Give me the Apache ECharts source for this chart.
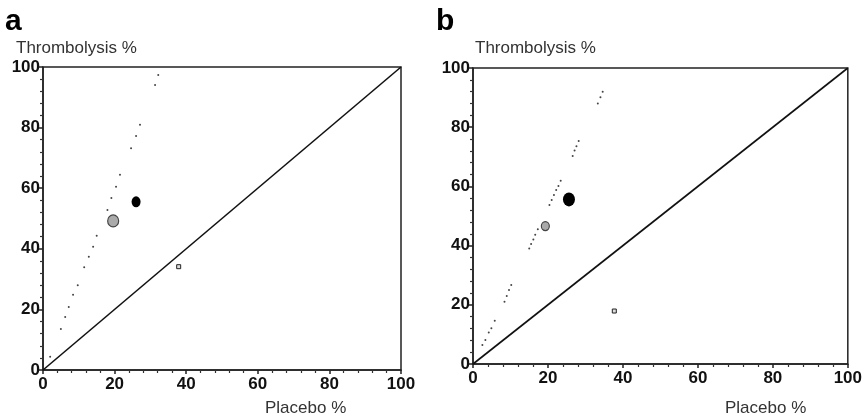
<!doctype html>
<html lang="en">
<head>
  <meta charset="UTF-8">
  <title>Thrombolysis vs placebo</title>
  <style>
    * { margin: 0; padding: 0; }
    html, body { width: 100%; height: 100%; background: #fff; }
    #main { width: 865px; height: 418px; }
  </style>
</head>
<body>
  <div id="main"></div>
  <script src="https://cdn.jsdelivr.net/npm/echarts@6/dist/echarts.min.js"></script>
  <script>
    // axis ticks (both panels share the same 0-100 scales)
    let axisMin = 0
    let axisMax = 100
    let tickStep = 20

    // panel a - pooled estimates [placebo %, thrombolysis %]
    let aBlack = [[26, 55.5]]
    let aGrey = [[19.6, 49.2]]
    let aSquare = [[37.9, 34.1]]
    // panel a - dotted reference trace
    let aDotsX = [2, 5, 6.2, 7.2, 8.4, 9.7, 11.5, 12.8, 14, 15, 18, 19.1, 20.4, 21.5, 24.6, 26, 27.1, 31.3, 32.2]
    let aDotsY = [4.4, 13.5, 17.5, 20.8, 24.8, 28, 33.9, 37.4, 40.7, 44.3, 52.8, 56.8, 60.5, 64.4, 73.2, 77.2, 80.9, 94.1, 97.4]

    // panel b
    let bBlack = [[25.6, 55.6]]
    let bGrey = [[19.3, 46.6]]
    let bSquare = [[37.7, 17.9]]
    let bDotsX = [2.5, 3.3, 4.2, 4.9, 5.8, 8.4, 9, 9.6, 10.2, 15, 15.5, 16.1, 16.6, 17.3, 20.4, 21, 21.6, 22.2, 22.8, 23.4, 26.6, 27.1, 27.6, 28.2, 33.3, 34, 34.6]
    let bDotsY = [6.4, 8.1, 10.6, 12.1, 14.6, 21, 23, 25, 26.7, 39, 40.5, 42.1, 43.7, 45.5, 53.7, 55.4, 57.1, 58.8, 60.1, 61.9, 70.3, 72.1, 73.6, 75.3, 88, 90.1, 92]

    // line of equality
    let diagonal = [[0, 0], [100, 100]]

    function zip(xs, ys) {
      return xs.map(function (x, i) { return [x, ys[i]] })
    }

    let tickFont = {
      color: '#111',
      fontSize: 17,
      fontWeight: 'bold',
      fontFamily: '"Liberation Sans", Arial, sans-serif'
    }

    function makeAxis(idx, isX) {
      return {
        type: 'value',
        gridIndex: idx,
        min: axisMin,
        max: axisMax,
        interval: tickStep,
        axisLine: { show: true, onZero: false, lineStyle: { color: '#222', width: 1.5 } },
        axisTick: { show: true, inside: false, length: 4, lineStyle: { color: '#222', width: 1.5 } },
        minorTick: { show: true, splitNumber: 5, length: 3, lineStyle: { color: '#333', width: 1.2 } },
        splitLine: { show: false },
        axisLabel: Object.assign({ margin: isX ? 6 : 3 }, tickFont)
      }
    }

    function panelSeries(idx, black, grey, square, dots, blackSize, greySize) {
      return [
        {
          type: 'line',
          xAxisIndex: idx,
          yAxisIndex: idx,
          data: diagonal,
          symbol: 'none',
          lineStyle: { color: '#111', width: 1.6 },
          silent: true
        },
        {
          type: 'scatter',
          xAxisIndex: idx,
          yAxisIndex: idx,
          data: dots,
          symbolSize: 2,
          itemStyle: { color: '#444', opacity: 1 }
        },
        {
          type: 'scatter',
          xAxisIndex: idx,
          yAxisIndex: idx,
          data: grey,
          symbolSize: greySize,
          itemStyle: { color: '#aaa', borderColor: '#444', borderWidth: 1.2, opacity: 1 }
        },
        {
          type: 'scatter',
          xAxisIndex: idx,
          yAxisIndex: idx,
          data: black,
          symbolSize: blackSize,
          itemStyle: { color: '#000', opacity: 1 }
        },
        {
          type: 'scatter',
          xAxisIndex: idx,
          yAxisIndex: idx,
          data: square,
          symbol: 'rect',
          symbolSize: 4,
          itemStyle: { color: '#ddd', borderColor: '#222', borderWidth: 1, opacity: 1 }
        }
      ]
    }

    let textFont = '17px "Liberation Sans", Arial, sans-serif'
    let letterFont = 'bold 30px "Liberation Sans", Arial, sans-serif'

    let myChart = echarts.init(document.getElementById('main'), null, { renderer: 'canvas' })
    let option = {
      animation: false,
      grid: [
        { left: 43, top: 67, width: 358, height: 303, show: true, borderColor: '#222', borderWidth: 1.5, backgroundColor: '#fff' },
        { left: 473, top: 68, width: 379, height: 296, show: true, borderColor: '#222', borderWidth: 1.5, backgroundColor: '#fff' }
      ],
      xAxis: [makeAxis(0, true), makeAxis(1, true)],
      yAxis: [makeAxis(0, false), makeAxis(1, false)],
      series: panelSeries(0, aBlack, aGrey, aSquare, zip(aDotsX, aDotsY), [9, 11], [11, 12])
        .concat(panelSeries(1, bBlack, bGrey, bSquare, zip(bDotsX, bDotsY), [12, 14], [8, 9])),
      graphic: [
        { type: 'text', left: 5, top: 7, style: { text: 'a', font: letterFont, fill: '#000' } },
        { type: 'text', left: 436, top: 7, style: { text: 'b', font: letterFont, fill: '#000' } },
        { type: 'text', left: 16, top: 40, style: { text: 'Thrombolysis %', font: textFont, fill: '#333' } },
        { type: 'text', left: 475, top: 40, style: { text: 'Thrombolysis %', font: textFont, fill: '#333' } },
        { type: 'text', left: 265, top: 400, style: { text: 'Placebo %', font: textFont, fill: '#333' } },
        { type: 'text', left: 725, top: 400, style: { text: 'Placebo %', font: textFont, fill: '#333' } }
      ]
    }
    myChart.setOption(option)
  </script>
</body>
</html>
